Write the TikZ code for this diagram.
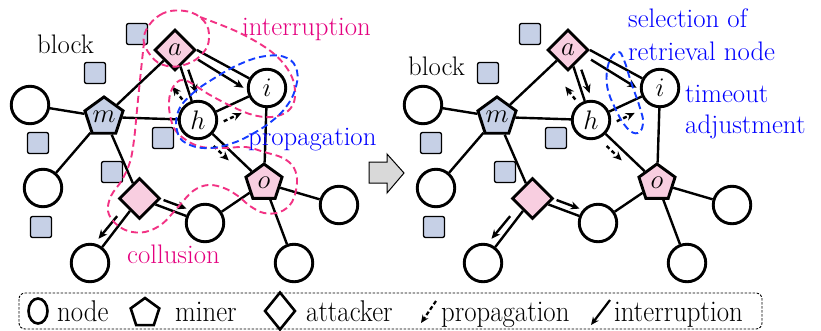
\documentclass[tikz,border=0pt]{standalone}
\usepackage{fix-cm}
\usetikzlibrary{shapes.geometric,arrows.meta,calc,backgrounds}
\definecolor{pinkfill}{RGB}{248,206,224}
\definecolor{bluefill}{RGB}{198,208,230}
\definecolor{pinkline}{RGB}{242,50,132}
\definecolor{pinktext}{RGB}{228,0,127}
\definecolor{blueline}{RGB}{20,60,255}
\definecolor{bluetext}{RGB}{0,0,255}
\tikzset{
  peer/.style={circle,draw,line width=2.9pt,fill=white,minimum size=37.5pt,inner sep=0pt},
  minerp/.style={regular polygon,regular polygon sides=5,draw,line width=2.9pt,minimum size=38pt,inner sep=0pt},
  attk/.style={diamond,draw,line width=2.9pt,fill=pinkfill,minimum size=41pt,inner sep=0pt},
  blk/.style={rectangle,rounded corners=2pt,draw,line width=1.3pt,fill=bluefill,minimum size=21pt,inner sep=0pt},
  edge/.style={line width=2.4pt},
  intarr/.style={line width=2.4pt,-{Stealth[length=9pt,width=8pt]}},
  proparr/.style={line width=2.4pt,dash pattern=on 4pt off 3pt,-{Stealth[length=9pt,width=8pt]}},
  grp/.style={line width=1.9pt,dash pattern=on 7pt off 4pt},
  lbl/.style={inner sep=0pt,anchor=base west},
}
\newcommand\mypanel[1]{%
  \node[peer] (#1t) at (30,105) {};
  \node[peer] (#1l) at (43,188) {};
  \node[peer] (#1mid) at (205,223) {};
  \node[peer] (#1bl) at (90,263) {};
  \node[peer] (#1br) at (294,263) {};
  \node[peer] (#1r) at (339,205) {};
  \node[peer] (#1h) at (198,120) {$h$};
  \node[peer] (#1i) at (267,88) {$i$};
  \node[minerp,fill=bluefill] (#1m) at (104,117) {$m$};
  \node[minerp,fill=pinkfill] (#1o) at (264,183) {$o$};
  \node[attk] (#1a) at (175,50) {$a$};
  \node[attk] (#1d) at (139.5,198.5) {};
  \node[blk] (#1s1) at (137,34) {};
  \node[blk] (#1s2) at (95,73) {};
  \node[blk] (#1s3) at (38,143) {};
  \node[blk] (#1s4) at (163,138) {};
  \node[blk] (#1s5) at (112,172) {};
  \node[blk] (#1s6) at (41,227) {};
  \begin{pgfonlayer}{background}
    \draw[edge] (#1t)--(#1m) (#1m)--(#1a) (#1m)--(#1h) (#1m)--(#1l) (#1m)--(#1d)
      (#1a)--(#1h) (#1a.east)--(#1i) (#1h)--(#1i) (#1h)--(#1o) (#1i)--(#1o)
      (#1o)--(#1mid) (#1o)--(#1r) (#1o)--(#1br) (#1d)--(#1mid) (#1d)--(#1bl);
  \end{pgfonlayer}
  \draw[intarr] ($(#1a)!0.31!(#1h)!6.5pt!90:(#1h)$) -- ($(#1a)!0.65!(#1h)!7pt!90:(#1h)$);
  \draw[proparr] ($(#1a)!0.67!(#1h)!8.5pt!-90:(#1h)$) -- ($(#1a)!0.46!(#1h)!14pt!-90:(#1h)$);
  \draw[intarr] ($(#1a.east)!0.07!(#1i)!8pt!-90:(#1i)$) -- ($(#1a.east)!0.74!(#1i)!11pt!-90:(#1i)$);
  \draw[proparr] ($(#1h)!0.30!(#1i)!12pt!-90:(#1i)$) -- ($(#1h)!0.56!(#1i)!12pt!-90:(#1i)$);
  \draw[proparr] ($(#1h)!0.32!(#1o)!8pt!-90:(#1o)$) -- ($(#1h)!0.55!(#1o)!8pt!-90:(#1o)$);
  \draw[intarr] ($(#1d)!0.33!(#1mid)!7pt!90:(#1mid)$) -- ($(#1d)!0.68!(#1mid)!7pt!90:(#1mid)$);
  \draw[intarr] ($(#1d)!0.34!(#1bl)!7pt!-90:(#1bl)$) -- ($(#1d)!0.70!(#1bl)!8pt!-90:(#1bl)$);
}
\newcommand\legtext[1]{\scalebox{1}[1.12]{#1}}
\begin{document}
\begin{tikzpicture}[x=1pt,y=-1pt,font=\fontsize{26.8}{32}\selectfont]
\useasboundingbox (0,0) rectangle (821,330);
% left panel
\begin{scope}
\mypanel{L}
\end{scope}
% right panel
\begin{scope}[shift={(393,0)}]
\mypanel{R}
\end{scope}
% labels
\node[lbl] (lblock) at (37,53) {block};
\node[lbl,text=pinktext] (lint) at (242,35) {interruption};
\node[lbl,text=bluetext] (lprop) at (248,145) {propagation};
\node[lbl,text=pinktext] (lcol) at (127,263) {collusion};
\node[lbl] (rblock) at (408,75) {block};
\node[lbl,text=bluetext] (rsel) at (628,27) {selection of};
\node[lbl,text=bluetext] (rret) at (628,60) {retrieval node};
\node[lbl,text=bluetext] (rtim) at (685,102) {timeout};
\node[lbl,text=bluetext] (radj) at (685,133) {adjustment};
% group outlines
\draw[grp,pinkline] plot[smooth cycle,tension=0.7] coordinates {(144,36) (160,15) (185,11) (204,21) (209,38) (203,53) (187,64) (167,66) (151,56)};
\draw[grp,pinkline] plot[smooth,tension=0.6] coordinates {(200,17) (240,33) (273,53) (291,75) (295,97) (288,111) (272,117) (253,115) (233,107) (210,95) (184,80) (172,89) (169,107) (174,128) (186,140) (202,147) (225,148) (246,147) (264,152) (283,158) (294,168) (297,183) (292,202) (280,212) (264,213) (250,206) (238,196) (224,188) (208,185) (193,191) (178,207) (162,224) (145,232) (128,231) (115,223) (108,211) (111,196) (122,180) (130,162) (134,140) (137,110) (140,80) (144,42)};
\draw[grp,blueline] plot[smooth cycle,tension=0.7] coordinates {(178,112) (192,94) (213,79) (240,64) (266,56) (287,58) (297,71) (295,90) (286,107) (272,121) (254,133) (233,143) (210,148) (190,145) (178,134)};
\draw[grp,blueline] plot[smooth cycle,tension=0.7] coordinates {(618,52) (609,62) (607,85) (615,108) (627,128) (638,133) (643,123) (640,108) (631,82) (624,60)};
% transition arrow
\draw[line width=1pt,fill=black!15] (369,162) -- (387,162) -- (387,154) -- (404,173) -- (387,193) -- (387,183) -- (369,183) -- cycle;
% legend
\draw[line width=0.9pt,dash pattern=on 2.5pt off 1.5pt,rounded corners=6pt] (19,293) rectangle (762,329);
\node[ellipse,draw,line width=2.6pt,minimum width=19pt,minimum height=25pt,inner sep=0pt] (gnode) at (38,311) {};
\node[lbl] at (57,321) {\legtext{node}};
\node[regular polygon,regular polygon sides=5,draw,line width=2.6pt,minimum size=30pt,inner sep=0pt] (gminer) at (145,313) {};
\node[lbl] at (175,321) {\legtext{miner}};
\node[diamond,draw,line width=2.6pt,minimum width=31pt,minimum height=38pt,inner sep=0pt] (gatt) at (280,311) {};
\node[lbl] at (306,321) {\legtext{attacker}};
\coordinate (p1) at (436,301); \coordinate (p2) at (421,323);
\draw[line width=2.2pt,dash pattern=on 4pt off 2.5pt,-{Stealth[length=8pt,width=7pt]}] (p1) -- (p2);
\node[lbl] at (441,321) {\legtext{propagation}};
\coordinate (q1) at (610,300); \coordinate (q2) at (591,325);
\draw[line width=2.2pt,-{Stealth[length=8pt,width=7pt]}] (q1) -- (q2);
\node[lbl] at (614,321) {\legtext{interruption}};
\end{tikzpicture}
\end{document}
